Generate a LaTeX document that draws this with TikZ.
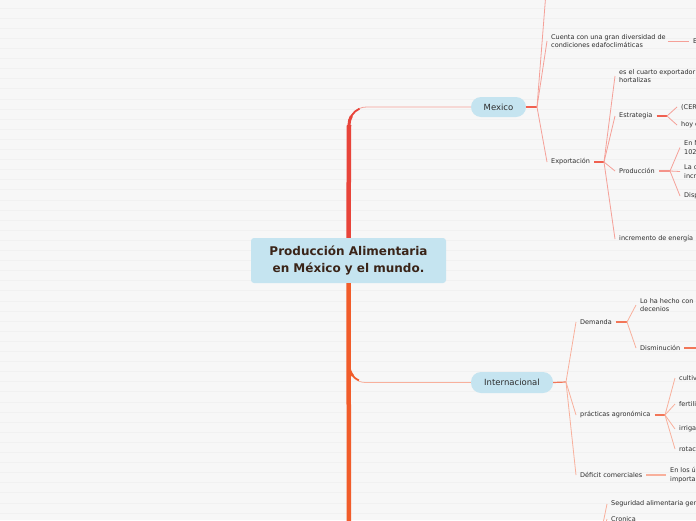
\documentclass[tikz,border=0pt]{standalone}
\usepackage{fontspec}
\setmainfont{DejaVu Sans}
\usepackage{xcolor}
\usepackage{tikz}
\definecolor{FondoGris}{RGB}{247,247,247}
\definecolor{LineaFondo}{RGB}{241,241,241}
\definecolor{AzulNodo}{RGB}{197,228,240}
\definecolor{CafeTitulo}{RGB}{58,36,24}
\definecolor{TextoGris}{RGB}{45,45,45}
\definecolor{RojoTronco}{RGB}{232,68,58}
\definecolor{NaranjaTronco}{RGB}{241,92,42}
\definecolor{RojoTallo}{RGB}{240,96,80}
\definecolor{RosaRama}{RGB}{245,160,152}
\definecolor{NaranjaTallo}{RGB}{242,118,88}
\definecolor{SalmonRama}{RGB}{248,176,156}

\begin{document}
\begin{tikzpicture}[x=1pt,y=-1pt,
  hoja/.style={anchor=west,inner xsep=4pt,inner ysep=1pt,align=left,
    font=\fontsize{6.5}{8.6}\selectfont,text=TextoGris},
  pildora/.style={fill=AzulNodo,rounded corners=10pt,minimum height=20pt,
    font=\fontsize{8.5}{10}\selectfont,text=TextoGris},
  tronco/.style={line width=4.5pt},
  tallo/.style={line width=1.2pt},
  rama/.style={line width=0.8pt}]
  \fill[FondoGris] (0,0) rectangle (696,520);
  \clip (0,0) rectangle (696,520);
  % rayas del fondo
  \foreach \k in {0,...,51}
    \draw[LineaFondo,line width=0.8pt] (0,{8+\k*10.1}) -- (696,{8+\k*10.1});

  % nodos principales
  \node[fill=AzulNodo,rounded corners=3pt,minimum width=195pt,minimum height=45pt,
    align=center,text=CafeTitulo,font=\fontsize{12}{16.5}\selectfont\bfseries]
    (centro) at (348.5,260.5) {Producción Alimentaria\\ en México y el mundo.};
  \node[pildora,minimum width=55pt] (mexico) at (498.5,107) {Mexico};
  \node[pildora,minimum width=82pt,minimum height=21pt] (internacional) at (512,382.5) {Internacional};

  % tronco y ramas principales
  \coordinate (codoMx) at (349,125);
  \coordinate (codoInt) at (349,365);
  \coordinate (troncoFin) at (349,530);
  \draw[rama,RosaRama,rounded corners=18pt] (centro.north) |- (mexico.west);
  \draw[rama,SalmonRama,rounded corners=17pt] (centro.south) |- (internacional.west);
  \draw[tronco,RojoTronco] (centro.north) -- (codoMx);
  \draw[RojoTronco,line width=3pt] (codoMx) arc[start angle=180,end angle=150,radius=18pt];
  \draw[RojoTronco,line width=1.8pt] (codoMx) arc[start angle=180,end angle=115,radius=18pt];
  \draw[NaranjaTronco,line width=2.6pt] (codoInt) arc[start angle=180,end angle=220,radius=17pt];
  \draw[NaranjaTronco,line width=1.6pt] (codoInt) arc[start angle=180,end angle=245,radius=17pt];
  \draw[tronco,NaranjaTronco] (centro.south) -- (troncoFin);

  % Mexico
  \coordinate (nudoMx) at (537,107);
  \coordinate (mxArriba) at (546,-8);
  \node[hoja] (cuenta) at (547,41) {Cuenta con una gran diversidad de\\condiciones edafoclimáticas};
  \node[hoja] (cuentaHijo) at (689,41) {E};
  \node[hoja] (exportacion) at (547,162) {Exportación};
  \draw[tallo,RojoTallo] (mexico.east) -- (nudoMx);
  \draw[rama,RosaRama] (nudoMx) -- (mxArriba);
  \draw[rama,RosaRama] (nudoMx) -- (cuenta.west);
  \draw[rama,RosaRama] (nudoMx) -- (exportacion.west);
  \draw[rama,RosaRama] ([xshift=-2pt]cuenta.east) -- (cuentaHijo.west);

  % Exportacion
  \coordinate (nudoExp) at (604,162);
  \node[hoja] (cuarto) at (615,76) {es el cuarto exportador\\hortalizas};
  \node[hoja] (estrategia) at (615,116) {Estrategia};
  \node[hoja] (produccion) at (615,171) {Producción};
  \node[hoja] (incremento) at (615,239) {incremento de energía};
  \draw[tallo,RojoTallo] (exportacion.east) -- (nudoExp);
  \foreach \hijo in {cuarto,estrategia,produccion,incremento}
    \draw[rama,RosaRama] (nudoExp) -- (\hijo.west);

  % Estrategia
  \coordinate (nudoEst) at (667,116);
  \node[hoja] (cer) at (677,107) {(CER};
  \node[hoja] (hoy) at (677,125) {hoy c};
  \draw[tallo,RojoTallo] (estrategia.east) -- (nudoEst);
  \foreach \hijo in {cer,hoy}
    \draw[rama,RosaRama] (nudoEst) -- (\hijo.west);

  % Produccion
  \coordinate (nudoProd) at (670,171);
  \node[hoja] (enm) at (680,147.5) {En M\\102};
  \node[hoja] (lac) at (680,171.5) {La c\\incr};
  \node[hoja] (disp) at (680,196) {Disp};
  \draw[line width=2pt,RosaRama!80!RojoTallo] (produccion.east) -- (nudoProd);
  \foreach \hijo in {enm,lac,disp}
    \draw[rama,RosaRama] (nudoProd) -- (\hijo.west);

  % Internacional
  \coordinate (nudoInt) at (566,382);
  \node[hoja] (demanda) at (576,322) {Demanda};
  \node[hoja] (practicas) at (576,415) {prácticas agronómica};
  \node[hoja] (deficit) at (576,475) {Déficit comerciales};
  \draw[tallo,NaranjaTallo] (internacional.east) -- (nudoInt);
  \foreach \hijo in {demanda,practicas,deficit}
    \draw[rama,SalmonRama] (nudoInt) -- (\hijo.west);

  % Demanda
  \coordinate (nudoDem) at (627,322);
  \coordinate (dismFin) at (700,348);
  \node[hoja] (lohecho) at (636,305) {Lo ha hecho con\\decenios};
  \node[hoja] (disminucion) at (636,348) {Disminución};
  \draw[tallo,NaranjaTallo] (demanda.east) -- (nudoDem);
  \foreach \hijo in {lohecho,disminucion}
    \draw[rama,SalmonRama] (nudoDem) -- (\hijo.west);
  \draw[tallo,NaranjaTallo] (disminucion.east) -- (dismFin);

  % practicas agronomicas
  \coordinate (nudoPra) at (665,415);
  \node[hoja] (cultiv) at (675,378) {cultiv};
  \node[hoja] (fertili) at (675,404) {fertili};
  \node[hoja] (irriga) at (675,429) {irriga};
  \node[hoja] (rotac) at (675,449) {rotac};
  \draw[tallo,NaranjaTallo] (practicas.east) -- (nudoPra);
  \foreach \hijo in {cultiv,fertili,irriga,rotac}
    \draw[rama,SalmonRama] (nudoPra) -- (\hijo.west);

  % Deficit
  \node[hoja] (enlos) at (666,475) {En los ú\\importa};
  \draw[tallo,SalmonRama] (deficit.east) -- (enlos.west);

  % rama de abajo
  \coordinate (nudoAbajo) at (598,548);
  \node[hoja] (seguridad) at (607,504) {Seguridad alimentaria gen};
  \node[hoja] (cronica) at (607,519) {Cronica};
  \foreach \hijo in {seguridad,cronica}
    \draw[rama,SalmonRama] (nudoAbajo) -- (\hijo.west);
\end{tikzpicture}
\end{document}
